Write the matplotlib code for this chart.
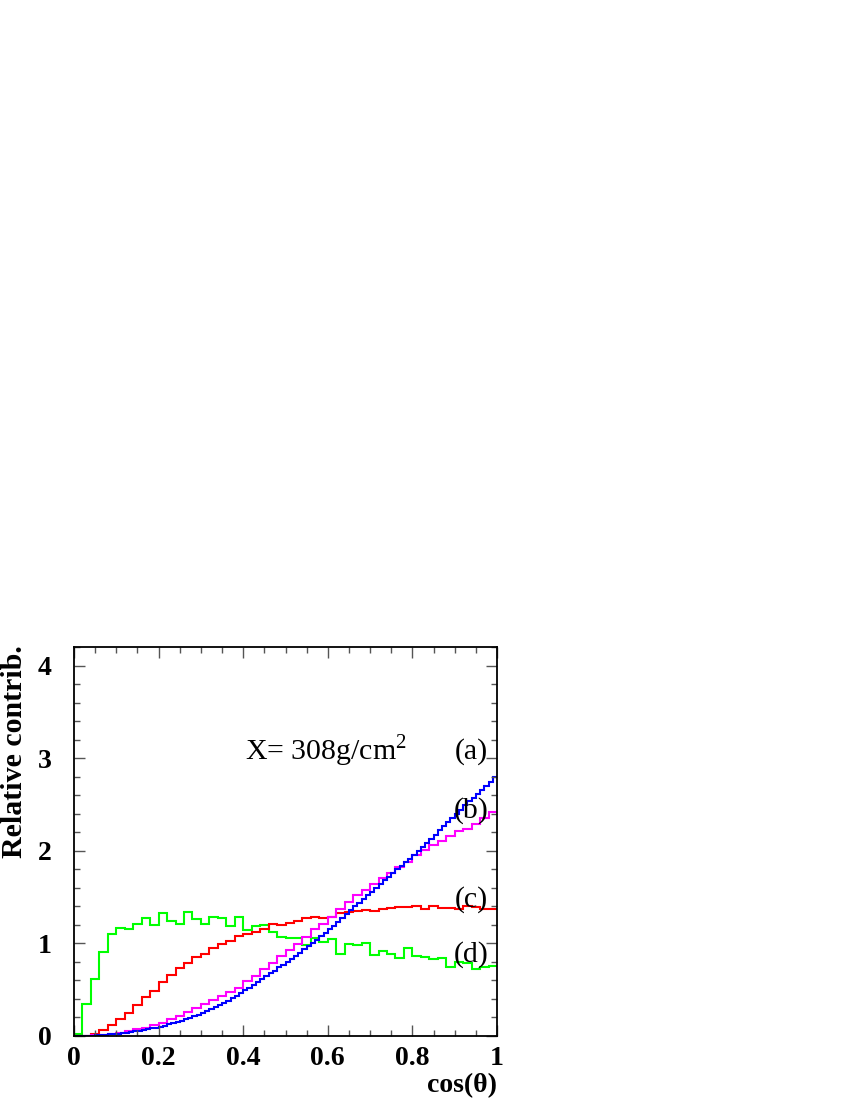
import numpy as np
import matplotlib
matplotlib.use("Agg")
import matplotlib.pyplot as plt
from matplotlib.ticker import MultipleLocator, FixedLocator

plt.rcParams['font.family'] = ['Liberation Serif', 'DejaVu Serif']
plt.rcParams['mathtext.fontset'] = 'custom'
plt.rcParams['mathtext.rm'] = 'Liberation Serif'

# cos(theta) histograms, 50 bins (b, c, d) and 100 bins (a)
curve_a = [0.0, 0.0, 0.001, 0.002, 0.004, 0.006, 0.009, 0.012, 0.016, 0.020,
           0.025, 0.030, 0.036, 0.042, 0.049, 0.056, 0.064, 0.072, 0.081, 0.091,
           0.101, 0.112, 0.124, 0.136, 0.149, 0.163, 0.178, 0.194, 0.211, 0.229,
           0.248, 0.268, 0.289, 0.311, 0.334, 0.358, 0.383, 0.409, 0.436, 0.464,
           0.493, 0.522, 0.551, 0.581, 0.612, 0.643, 0.675, 0.707, 0.740, 0.770,
           0.800, 0.833, 0.866, 0.900, 0.935, 0.970, 1.005, 1.041, 1.077, 1.113,
           1.150, 1.192, 1.234, 1.276, 1.318, 1.360, 1.400, 1.440, 1.480, 1.520,
           1.560, 1.600, 1.640, 1.680, 1.720, 1.760, 1.800, 1.840, 1.880, 1.915,
           1.950, 1.995, 2.040, 2.085, 2.130, 2.175, 2.220, 2.265, 2.310, 2.355,
           2.400, 2.445, 2.490, 2.535, 2.575, 2.615, 2.655, 2.695, 2.745, 2.800]

curve_b = [0.0, 0.002, 0.006, 0.012, 0.02, 0.035, 0.05, 0.07, 0.09, 0.115,
           0.145, 0.18, 0.22, 0.26, 0.30, 0.35, 0.39, 0.43, 0.47, 0.52,
           0.59, 0.65, 0.72, 0.79, 0.86, 0.93, 0.99, 1.07, 1.15, 1.21,
           1.28, 1.37, 1.45, 1.52, 1.58, 1.64, 1.71, 1.76, 1.82, 1.88,
           1.95, 2.01, 2.06, 2.11, 2.16, 2.21, 2.24, 2.29, 2.35, 2.42]

curve_c = [0.0, 0.005, 0.025, 0.065, 0.12, 0.18, 0.25, 0.335, 0.42, 0.49,
           0.58, 0.66, 0.73, 0.79, 0.85, 0.89, 0.95, 0.99, 1.03, 1.08,
           1.10, 1.12, 1.16, 1.21, 1.20, 1.22, 1.24, 1.27, 1.28, 1.27,
           1.28, 1.33, 1.34, 1.35, 1.36, 1.35, 1.37, 1.38, 1.39, 1.39,
           1.40, 1.37, 1.40, 1.38, 1.38, 1.37, 1.40, 1.39, 1.37, 1.37]

curve_d = [0.02, 0.35, 0.62, 0.91, 1.10, 1.17, 1.16, 1.21, 1.27, 1.20,
           1.33, 1.24, 1.21, 1.34, 1.26, 1.21, 1.29, 1.27, 1.19, 1.28,
           1.14, 1.19, 1.20, 1.12, 1.07, 1.06, 1.06, 0.98, 1.06, 1.01,
           1.05, 0.88, 0.99, 0.98, 1.00, 0.87, 0.92, 0.89, 0.84, 0.95,
           0.86, 0.85, 0.83, 0.84, 0.74, 0.80, 0.79, 0.72, 0.75, 0.76]

labels = ['(a)', '(b)', '(c)', '(d)']
label_y = [3.07, 2.43, 1.47, 0.88]
x_ticks = [0, 0.2, 0.4, 0.6, 0.8, 1]
x_tick_labels = ['0', '0.2', '0.4', '0.6', '0.8', '1']
y_ticks = [0, 1, 2, 3, 4]

fig = plt.figure(figsize=(8.5, 11), dpi=100)
ax = fig.add_axes([0.0871, 0.0582, 0.4976, 0.3536])

ax.stairs(curve_d, np.linspace(0, 1, len(curve_d) + 1), baseline=None, color='#00ff00', lw=1.5)
ax.stairs(curve_c, np.linspace(0, 1, len(curve_c) + 1), baseline=None, color='#ff0000', lw=1.5)
ax.stairs(curve_b, np.linspace(0, 1, len(curve_b) + 1), baseline=None, color='#ff00ff', lw=1.5)
ax.stairs(curve_a, np.linspace(0, 1, len(curve_a) + 1), baseline=None, color='#0000ff', lw=1.5)

ax.set_xlim(0, 1)
ax.set_ylim(0, 4.2)

ax.xaxis.set_major_locator(FixedLocator(x_ticks))
ax.set_xticklabels(x_tick_labels)
ax.xaxis.set_minor_locator(MultipleLocator(0.05))
ax.yaxis.set_major_locator(FixedLocator(y_ticks))
ax.yaxis.set_minor_locator(MultipleLocator(0.2))

ax.tick_params(which='both', direction='in', top=True, right=True, color='#555555', width=1)
ax.tick_params(which='major', length=8, labelsize=20)
ax.tick_params(which='minor', length=4)
ax.tick_params(axis='x', pad=7)
ax.tick_params(axis='y', pad=16)
for lab in ax.get_xticklabels() + ax.get_yticklabels():
    lab.set_fontweight('bold')

for sp in ax.spines.values():
    sp.set_linewidth(1.3)

ax.text(0.404, 2.98, r'X= 308g/cm$^{2}$', fontsize=21.5)
for lab, ly in zip(labels, label_y):
    ax.text(0.94, ly, lab, fontsize=21.5, ha='center', va='center')

ax.text(1.0, -0.145, 'cos(θ)', transform=ax.transAxes, ha='right', va='baseline',
        fontsize=20, fontweight='bold')
fig.text(0.001, 0.4136, 'Relative contrib.', rotation=90, ha='left', va='top',
         fontsize=21.5, fontweight='bold')

fig.savefig('out.png', dpi=100)
